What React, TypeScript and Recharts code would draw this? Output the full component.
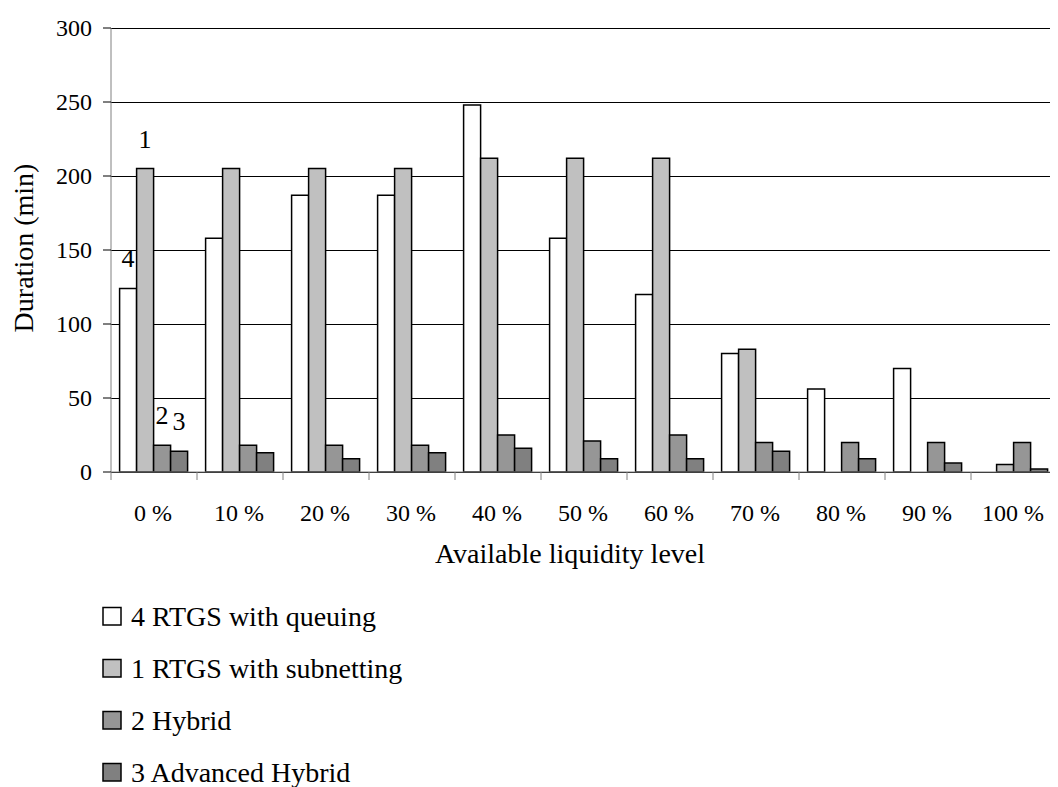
import { BarChart, Bar, XAxis, YAxis, CartesianGrid, LabelList, Label } from 'recharts';

const levels = ['0 %', '10 %', '20 %', '30 %', '40 %', '50 %', '60 %', '70 %', '80 %', '90 %', '100 %'];
const queuing = [124, 158, 187, 187, 248, 158, 120, 80, 56, 70, 0];
const subnetting = [205, 205, 205, 205, 212, 212, 212, 83, 0, 0, 5];
const hybrid = [18, 18, 18, 18, 25, 21, 25, 20, 20, 20, 20];
const advanced = [14, 13, 9, 13, 16, 9, 9, 14, 9, 6, 2];
const yTicks = [0, 50, 100, 150, 200, 250, 300];

const series = [
  { key: 'queuing', name: '4 RTGS with queuing', mark: '4', color: '#FFFFFF' },
  { key: 'subnetting', name: '1 RTGS with subnetting', mark: '1', color: '#C0C0C0' },
  { key: 'hybrid', name: '2 Hybrid', mark: '2', color: '#969696' },
  { key: 'advanced', name: '3 Advanced Hybrid', mark: '3', color: '#808080' },
];

const data = levels.map((level, i) => ({
  level,
  queuing: queuing[i],
  subnetting: subnetting[i],
  hybrid: hybrid[i],
  advanced: advanced[i],
}));

const FONT = "'Times New Roman', 'Liberation Serif', serif";
const txt = { fontFamily: FONT };
const W = 1058;
const CHART_H = 600;
const LEFT = 111;
const RIGHT = 1;
const TOP = 28;
const AXIS_Y = 472;
const BAND = (W - LEFT - RIGHT) / levels.length;

function LevelTick(props: any) {
  const { x, payload, index } = props;
  const edge = x - BAND / 2;
  return (
    <g>
      <line x1={edge} y1={AXIS_Y} x2={edge} y2={AXIS_Y + 8} stroke="#808080" />
      {index === levels.length - 1 && (
        <line x1={edge + BAND} y1={AXIS_Y} x2={edge + BAND} y2={AXIS_Y + 8} stroke="#808080" />
      )}
      <text x={x - 1} y={AXIS_Y + 49} textAnchor="middle" fontSize={24} fill="#000" style={txt}>
        {payload.value}
      </text>
    </g>
  );
}

function YTick(props: any) {
  const { x, y, payload } = props;
  return (
    <text x={x} y={y} dy="0.35em" textAnchor="end" fontSize={24} fill="#000" style={txt}>
      {payload.value}
    </text>
  );
}

function markLabel(mark: string) {
  return (props: any) => {
    const { x, y, width, index } = props;
    if (index !== 0) return null;
    return (
      <text x={x + width / 2} y={y - 21} textAnchor="middle" fontSize={26} fill="#000" style={txt}>
        {mark}
      </text>
    );
  };
}

export default function App() {
  return (
    <div style={{ position: 'relative', width: W, height: 787, margin: '-8px 0 0 -8px', background: '#fff', fontFamily: FONT }}>
      <BarChart
        width={W}
        height={CHART_H}
        data={data}
        margin={{ top: TOP, right: RIGHT, left: 0, bottom: 28 }}
        barCategoryGap="10%"
        barGap={0}
        style={{ fontFamily: FONT }}
      >
        <CartesianGrid vertical={false} stroke="#000" shapeRendering="crispEdges" />
        <XAxis
          dataKey="level"
          height={100}
          interval={0}
          tickLine={false}
          axisLine={{ stroke: '#808080' }}
          tick={<LevelTick />}
        >
          <Label
            content={(p: any) => {
              const vb = p.viewBox;
              return (
                <text x={vb.x + vb.width / 2 - 14} y={vb.y + 91} textAnchor="middle" fontSize={28} fill="#000" style={txt}>
                  Available liquidity level
                </text>
              );
            }}
          />
        </XAxis>
        <YAxis
          width={LEFT}
          domain={[0, 300]}
          ticks={yTicks}
          interval={0}
          tickSize={8}
          tickMargin={11}
          axisLine={{ stroke: '#808080' }}
          tickLine={{ stroke: '#000' }}
          tick={<YTick />}
        >
          <Label
            content={(p: any) => {
              const vb = p.viewBox;
              const cx = 23;
              const cy = vb.y + vb.height / 2 - 2;
              return (
                <text
                  x={cx}
                  y={cy}
                  transform={`rotate(-90, ${cx}, ${cy})`}
                  textAnchor="middle"
                  dominantBaseline="central"
                  fontSize={28}
                  fill="#000"
                  style={txt}
                >
                  Duration (min)
                </text>
              );
            }}
          />
        </YAxis>
        {series.map((s) => (
          <Bar
            key={s.key}
            dataKey={s.key}
            name={s.name}
            fill={s.color}
            stroke="#000"
            strokeWidth={1.5}
            isAnimationActive={false}
          >
            <LabelList dataKey={s.key} content={markLabel(s.mark)} />
          </Bar>
        ))}
      </BarChart>
      <svg width={520} height={187} style={{ position: 'absolute', left: 0, top: CHART_H }}>
        {series.map((s, i) => (
          <g key={s.key}>
            <rect x={103} y={7.5 + i * 52} width={18} height={17.5} fill={s.color} stroke="#000" strokeWidth={1.5} />
            <text x={131} y={26 + i * 52} fontSize={28} fill="#000" style={txt}>
              {s.name}
            </text>
          </g>
        ))}
      </svg>
    </div>
  );
}
